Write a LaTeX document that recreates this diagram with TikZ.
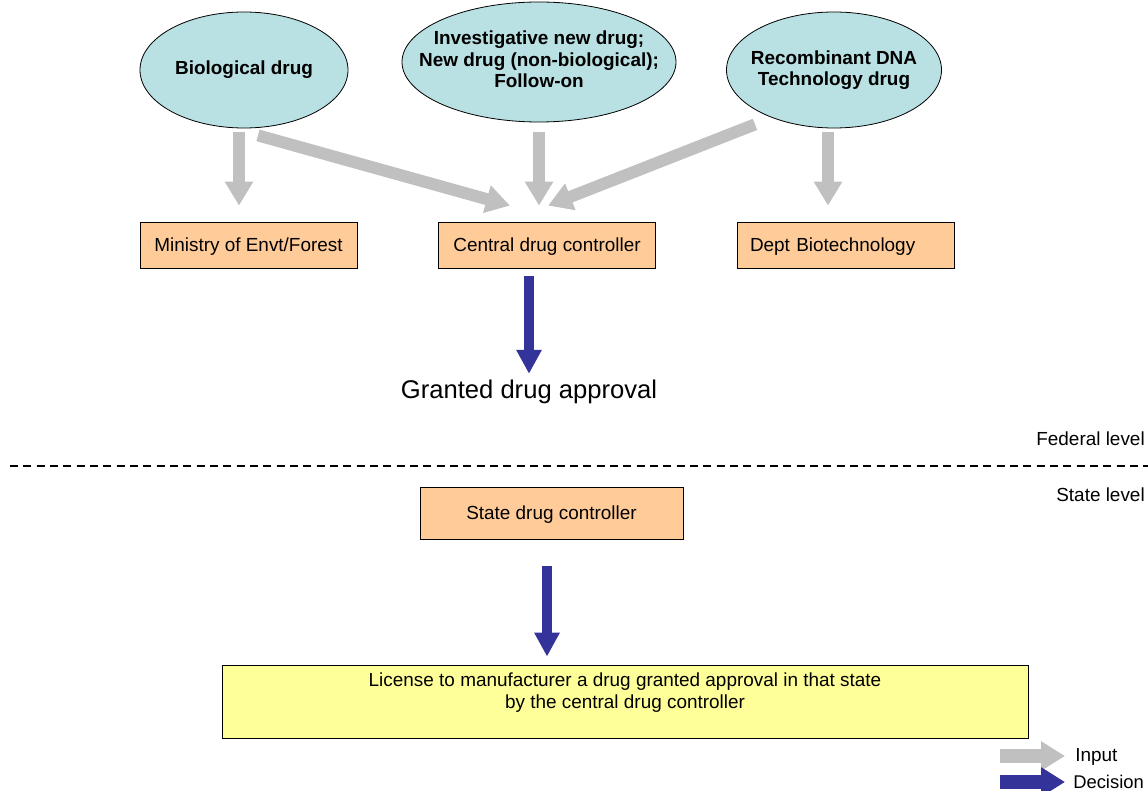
\documentclass[tikz,border=0pt]{standalone}
\usepackage{fontspec}
\setmainfont{Liberation Sans}
\usetikzlibrary{arrows.meta,calc,shapes.geometric}
\definecolor{ellfill}{HTML}{B9E0E2}
\definecolor{boxfill}{HTML}{FFCC99}
\definecolor{licfill}{HTML}{FFFF99}
\definecolor{ingray}{HTML}{C0C0C0}
\definecolor{decblue}{HTML}{333399}
\newcommand{\pxu}{0.75pt}
\tikzset{
  drugell/.style={ellipse, draw=black, line width=0.6pt, fill=ellfill, inner sep=-30*\pxu,
     font=\fontsize{14.2}{16.2}\selectfont\bfseries, align=center},
  orgbox/.style={rectangle, draw=black, line width=0.6pt, fill=boxfill,
     minimum width=217*\pxu, minimum height=46*\pxu, inner sep=0pt, text depth=0pt,
     font=\fontsize{14.2}{16}\selectfont},
  inarrow/.style={draw=ingray, line width=12*\pxu,
     -{Triangle[width=27*\pxu, length=24*\pxu]}},
  decarrow/.style={draw=decblue, line width=10*\pxu,
     -{Triangle[width=24*\pxu, length=24*\pxu]}},
  plaintext/.style={inner sep=0pt, font=\fontsize{14.2}{16}\selectfont}
}
\begin{document}
\begin{tikzpicture}[x=0.75pt,y=-0.75pt]
\useasboundingbox (0,0) rectangle (1148,791);

% ellipses
\node[drugell, minimum width=208*\pxu, minimum height=116*\pxu] (bio) at (244,70) {Biological drug};
\node[drugell, minimum width=274*\pxu, minimum height=120*\pxu] (ind) at (539,62)
  {\raisebox{3pt}{\begin{tabular}{@{}c@{}}Investigative new drug;\\New drug (non-biological);\\Follow-on\end{tabular}}};
\node[drugell, minimum width=215*\pxu, minimum height=116*\pxu] (rdna) at (834,70)
  {Recombinant DNA\\Technology drug};

% federal boxes
\node[orgbox] (min) at (248.5,245) {Ministry of Envt/Forest};
\node[orgbox] (cdc) at (547,245) {Central drug controller};
\node[orgbox, text width=191*\pxu, align=left] (dbt) at (845.5,245) {Dept Biotechnology};

% input arrows
\draw[inarrow] ($(bio.south)+(-5,4)$) -- ($(min.north)+(-9.5,-16)$);
\draw[inarrow] ($(bio.south)+(14,7)$) -- ($(cdc.north)+(-37,-16)$);
\draw[inarrow] ($(ind.south)+(0,10)$) -- ($(cdc.north)+(-8,-16)$);
\draw[inarrow] ($(rdna.south)+(-79,-4)$) -- ($(cdc.north)+(1,-16)$);
\draw[inarrow] ($(rdna.south)+(-6,4)$) -- ($(dbt.north)+(-17.5,-16)$);

% decision at federal level
\node[inner sep=0pt, font=\fontsize{19.2}{22}\selectfont] (grant) at (529,392) {Granted drug approval};
\draw[decarrow] ($(cdc.south)+(-18,8)$) -- ($(grant.north)+(0,-6)$);

% level separator
\coordinate (sepL) at (10,466);
\coordinate (sepR) at (1148,466);
\draw[black, line width=1.5pt, dash pattern=on 6pt off 4pt] (sepL) -- (sepR);
\node[plaintext, anchor=east] (fed) at (1145,439) {Federal level};
\node[plaintext, anchor=east] (stl) at (1145,495) {State level};

% state level
\node[orgbox, minimum width=263*\pxu, minimum height=52*\pxu] (sdc) at (551.5,513) {State drug controller};
\node[rectangle, draw=black, line width=0.6pt, fill=licfill, minimum width=806*\pxu,
      minimum height=73*\pxu, inner sep=0pt, align=center,
      font=\fontsize{14.2}{16.5}\selectfont] (lic) at (625,701.5)
  {License to manufacturer a drug granted approval in that state\\by the central drug controller\\\mbox{}};
\draw[decarrow] ($(sdc.south)+(-4.5,27)$) -- ($(lic.north)+(-78,-8)$);

% legend
\node[plaintext, anchor=west] (lin) at (1075,757) {Input};
\node[plaintext, anchor=west, font=\fontsize{13.8}{16}\selectfont] (ldec) at (1073,782) {Decision};
\coordinate (lg1) at (1000,756);
\coordinate (lg2) at (1000,782);
\draw[draw=ingray, line width=14*\pxu, -{Triangle[width=28*\pxu, length=24*\pxu]}] (lg1) -- ($(lin.west)+(-10,-1)$);
\draw[draw=decblue, line width=14*\pxu, -{Triangle[width=28*\pxu, length=24*\pxu]}] (lg2) -- ($(ldec.west)+(-8,0)$);
\end{tikzpicture}
\end{document}
